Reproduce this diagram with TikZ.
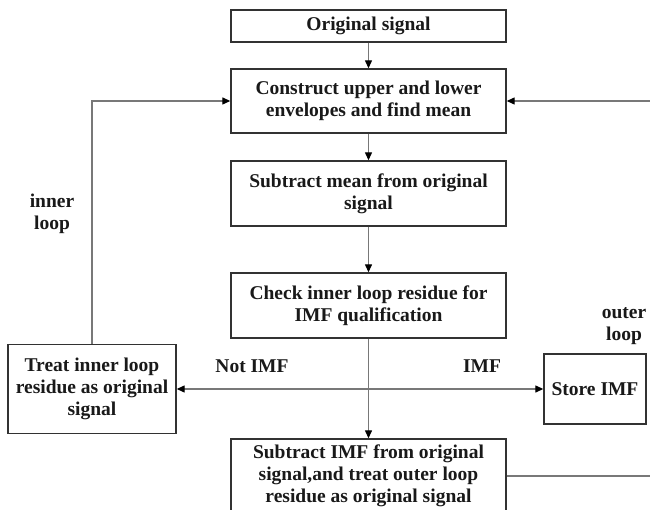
\documentclass[tikz,border=0pt]{standalone}
\usepackage{fontspec}
\setmainfont{Liberation Serif}
\usetikzlibrary{arrows.meta}
\definecolor{boxc}{RGB}{50,50,50}
\definecolor{linec}{RGB}{120,120,120}
\definecolor{txtc}{RGB}{25,25,25}
\begin{document}
\begin{tikzpicture}[x=1pt,y=-1pt,
  box/.style={draw=boxc, line width=1.4pt, minimum width=275pt, align=center, inner sep=0pt, text=txtc,
    font=\bfseries\fontsize{19.5}{22}\selectfont},
  lbl/.style={align=center, inner sep=0pt, text=txtc, font=\bfseries\fontsize{19.5}{22}\selectfont},
  conn/.style={draw=linec, line width=1.3pt, -{Triangle[length=8pt,width=7pt,color=black]}}]
\useasboundingbox (0,0) rectangle (650,510);
\clip (0,0) rectangle (650,510);
\fill[white] (0,0) rectangle (650,510);
% boxes
\node[box, minimum height=32pt] (orig) at (368.5,26) {Original signal};
\node[box, minimum height=64pt] (cons) at (368.5,101) {Construct upper and lower\\envelopes and find mean};
\node[box, minimum height=65pt] (subm) at (368.5,193.5) {Subtract mean from original\\signal};
\node[box, minimum height=65pt] (check) at (368.5,305.5) {Check inner loop residue for\\IMF qualification};
\node[box, minimum width=168pt, minimum height=89pt] (treat) at (92,389) {Treat inner loop\\residue as original\\signal};
\node[box, minimum width=102pt, minimum height=70pt] (store) at (595,389) {Store IMF};
\node[box, minimum height=74pt] (subimf) at (368.5,476) {Subtract IMF from original\\signal,and treat outer loop\\residue as original signal};
% labels
\node[lbl] (inner) at (52,214) {inner\\loop};
\node[lbl] (outerl) at (624,326) {outer\\loop};
\node[lbl] (notimf) at (252,366) {Not IMF};
\node[lbl] (imf) at (482,366) {IMF};
% connectors
\draw[conn] (orig) -- (cons);
\draw[conn] (cons) -- (subm);
\draw[conn] (subm) -- (check);
\draw[conn] (check) -- (subimf);
\coordinate (split) at (368.5,389);
\draw[conn] (split) -- (treat);
\draw[conn] (split) -- (store);
\draw[conn] (treat.north) |- (cons.west);
\coordinate (outer) at (656,476);
\draw[conn] (subimf.east) -- (outer) |- (cons.east);
\end{tikzpicture}
\end{document}
